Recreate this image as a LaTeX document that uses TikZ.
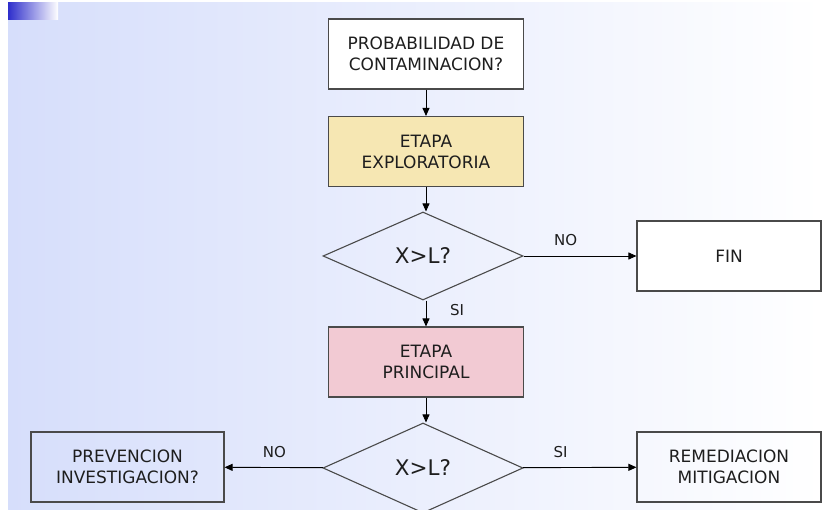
\documentclass[tikz,border=0pt]{standalone}
\usepackage{fontspec}
\setmainfont{DejaVu Sans}
\usetikzlibrary{shapes.geometric,arrows.meta}
\definecolor{bgblue}{HTML}{D6DEFB}
\definecolor{corner}{HTML}{2E2ECC}
\definecolor{edgegray}{HTML}{4A4A4A}
\definecolor{txt}{HTML}{1E1E1E}
\definecolor{yellowfill}{HTML}{F6E7B3}
\definecolor{pinkfill}{HTML}{F2CAD3}
\begin{document}
\begin{tikzpicture}[x=1pt,y=-1pt,
  box/.style={draw=edgegray,line width=1.1pt,minimum width=195pt,minimum height=70pt,
    inner sep=0pt,align=center,text=txt,font=\fontsize{17}{21}\selectfont},
  sidebox/.style={box,minimum width=193pt},
  decision/.style={draw=edgegray,line width=1.1pt,diamond,aspect=2.3,inner sep=0pt,
    minimum width=200pt,minimum height=88pt,text=txt,font=\fontsize{21.5}{25}\selectfont},
  conn/.style={draw=black,line width=0.9pt,-{Triangle[length=8pt,width=7pt]}},
  lbl/.style={text=txt,font=\fontsize{15}{18}\selectfont,inner sep=0pt}]
\useasboundingbox (0,0) rectangle (822,510);
\fill[white] (0,0) rectangle (822,510);
\shade[left color=bgblue,right color=white] (8,3) rectangle (822,510);
\shade[left color=corner,right color=white] (8,3) rectangle (58,20);

\node[box,fill=white] (prob) at (426,54) {PROBABILIDAD DE\\CONTAMINACION?};
\node[box,fill=yellowfill] (expl) at (426,151.5) {ETAPA\\EXPLORATORIA};
\node[decision] (d1) at (423,256) {X>L?};
\node[box,fill=white,minimum width=184pt] (fin) at (729,256) {FIN};
\node[box,fill=pinkfill] (prin) at (426,362) {ETAPA\\PRINCIPAL};
\node[decision,minimum height=90pt] (d2) at (423,468) {X>L?};
\node[sidebox] (prev) at (127.5,467) {PREVENCION\\INVESTIGACION?};
\node[box,minimum width=184pt] (rem) at (729,467) {REMEDIACION\\MITIGACION};

\draw[conn] (prob) -- (expl);
\draw[conn] (expl.south) -- (expl.south |- d1.north);
\draw[conn] (d1) -- (fin);
\draw[conn] (d1.south -| prin.north) -- (prin.north);
\draw[conn] (prin.south) -- (prin.south |- d2.north);
\draw[conn] (d2) -- (prev);
\draw[conn] (d2) -- (rem);

\node[lbl] (no1) at ([xshift=42pt,yshift=16pt]d1.east) {NO};
\node[lbl] (si1) at ([xshift=34pt,yshift=-9pt]d1.south) {SI};
\node[lbl] (no2) at ([xshift=-48pt,yshift=16pt]d2.west) {NO};
\node[lbl] (si2) at ([xshift=37pt,yshift=16pt]d2.east) {SI};
\end{tikzpicture}
\end{document}
